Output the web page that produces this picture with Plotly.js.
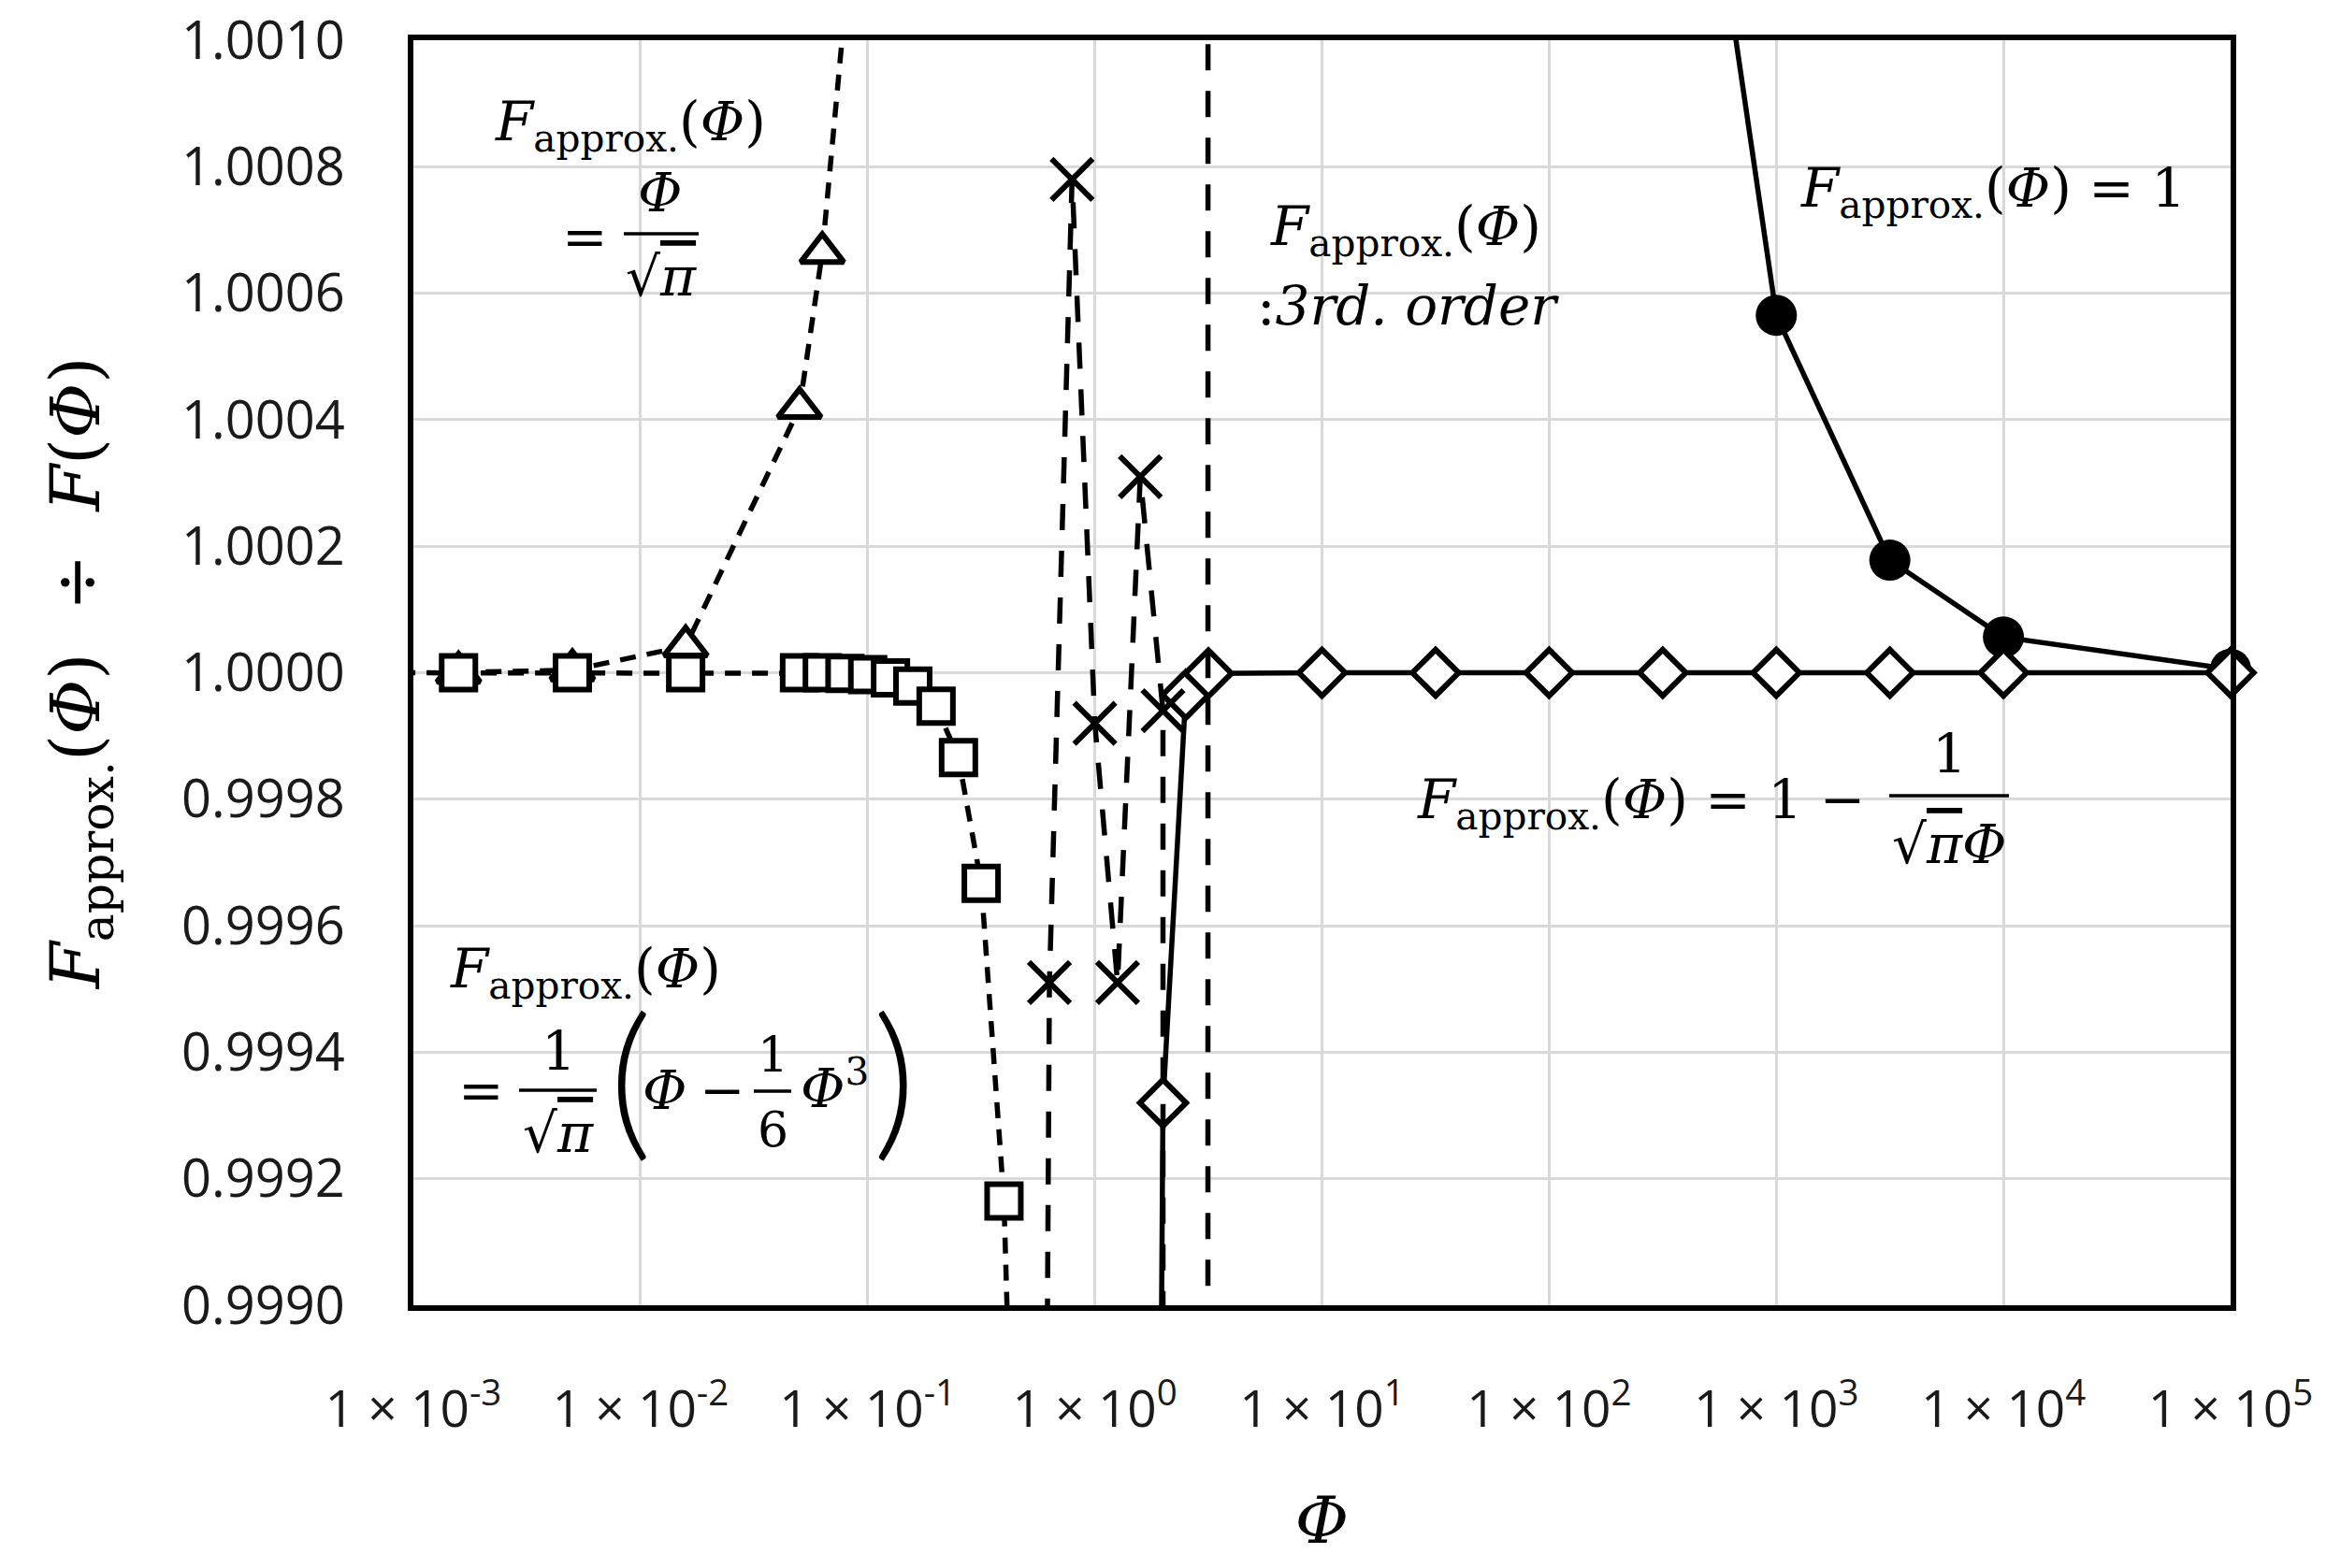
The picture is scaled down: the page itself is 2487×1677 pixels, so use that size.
<!DOCTYPE html>
<html><head><meta charset="utf-8">
<script src="https://cdn.plot.ly/plotly-3.0.1.min.js"></script>
<style>html,body{margin:0;padding:0;background:#fff}</style>
</head><body>
<div id="chart" style="width:2487px;height:1677px"></div>
<script>
// ---- data (x = Phi, y = Fapprox/F) ----
const phiTriangle   = [0.00158, 0.00501, 0.0158, 0.0501, 0.0631, 0.0794, 0.1];
const ratioTriangle = [1.0000004, 1.0000042, 1.000042, 1.000419, 1.000664, 1.00105, 1.00167];

const phiSquare   = [0.000501, 0.00158, 0.00501, 0.0158, 0.0501, 0.0631, 0.0794, 0.1, 0.126, 0.158, 0.2, 0.251, 0.316, 0.398, 0.501];
const ratioSquare = [1.0, 1.0, 1.0, 1.0, 1.0, 1.0, 0.999999, 0.999997, 0.999992, 0.999979, 0.999947, 0.999866, 0.999667, 0.999165, 0.99793];

const phiCross   = [0.501, 0.631, 0.794, 1.0, 1.259, 1.585, 1.995, 2.512, 3.162];
const ratioCross = [0.9935, 0.99951, 1.00078, 0.99992, 0.99951, 1.00031, 0.99994, 0.5, 1.01];

const phiDiamond   = [1.585, 1.995, 2.512, 3.162, 10, 31.62, 100, 316.2, 1000, 3162, 10000, 100000];
const ratioDiamond = [0.99399, 0.99932, 0.999965, 0.999999, 1.0, 1.0, 1.0, 1.0, 1.0, 1.0, 1.0, 1.0];

const phiCircle   = [316.2, 1000, 3162, 10000, 100000];
const ratioCircle = [1.00179, 1.000565, 1.000178, 1.0000564, 1.0000056];

const xTickVals = [1e-3, 1e-2, 1e-1, 1e0, 1e1, 1e2, 1e3, 1e4, 1e5];
const xTickExp  = ['-3', '-2', '-1', '0', '1', '2', '3', '4', '5'];
const xTickText = xTickExp.map(e => '1 × 10<sup>' + e + '</sup>');

// ---- layout helpers (pixel -> paper) ----
const L = 442, R = 2385, T = 43, B = 1396;
const px = x => (x - L) / (R - L);
const py = y => (B - y) / (B - T);

const MATH = 'DejaVu Serif';
const FA = '<i>F</i><sub>approx.</sub>(<i>Φ</i>)';
const SQPI = '√<span style="text-decoration:overline"><i>π</i></span>';

function ann(x, y, text, size, xanchor, family, weight) {
  return {xref: 'paper', yref: 'paper', x: px(x), y: py(y), text: text, showarrow: false,
          xanchor: xanchor || 'center', yanchor: 'middle',
          font: {family: family || MATH, size: size || 56, color: '#000', weight: weight || 400}};
}
function bar(x0, x1, y) {
  return {type: 'line', xref: 'paper', yref: 'paper', x0: px(x0), x1: px(x1), y0: py(y), y1: py(y),
          line: {color: '#000', width: 3.5}, layer: 'above'};
}
function box(x0, x1, y0, y1) {
  return {type: 'rect', xref: 'paper', yref: 'paper', x0: px(x0), x1: px(x1), y0: py(y1), y1: py(y0),
          fillcolor: '#fff', line: {width: 0}, layer: 'between'};
}

const traces = [
  {x: phiCircle, y: ratioCircle, mode: 'lines+markers', cliponaxis: false,
   line: {color: '#000', width: 5.5},
   marker: {symbol: 'circle', size: 44, color: '#000'}},
  {x: phiTriangle, y: ratioTriangle, mode: 'lines+markers',
   line: {color: '#000', width: 5.5, dash: '17px,12px'},
   marker: {symbol: 'triangle-up', size: 40, color: '#fff', line: {color: '#000', width: 6}}},
  {x: phiSquare, y: ratioSquare, mode: 'lines+markers',
   line: {color: '#000', width: 5.5, dash: '17px,12px'},
   marker: {symbol: 'square', size: 36, color: '#fff', line: {color: '#000', width: 6}}},
  {x: phiDiamond, y: ratioDiamond, mode: 'lines+markers', cliponaxis: false,
   line: {color: '#000', width: 5.5},
   marker: {symbol: 'diamond', size: 38, color: '#fff', line: {color: '#000', width: 6}}},
  {x: phiCross, y: ratioCross, mode: 'lines+markers',
   line: {color: '#000', width: 5.5, dash: '28px,22px'},
   marker: {symbol: 'x-thin-open', size: 44, color: '#000', line: {color: '#000', width: 6}}}
];

const annotations = [
  // Phi / sqrt(pi)
  ann(674, 134, FA, 58),
  ann(625, 253, '=', 58),
  ann(706, 206, '<i>Φ</i>', 58),
  ann(707, 296, SQPI, 58),
  // 3rd order
  ann(1356, 246, FA, 58, 'left'),
  ann(1342, 327, ':<i>3rd. order</i>', 58, 'left'),
  // = 1
  ann(2131, 205, FA + ' = 1', 58),
  // 1 - 1/(sqrt(pi) Phi)
  ann(1996, 859, FA + ' = 1 −', 58, 'right'),
  ann(2084, 806, '1', 58),
  ann(2084, 903, SQPI + '<i>Φ</i>', 58),
  // (1/sqrt(pi))(Phi - Phi^3/6)
  ann(626, 1040, FA, 58),
  ann(514, 1166, '=', 58),
  ann(597, 1124, '1', 58),
  ann(597, 1212, SQPI, 58),
  ann(674, 1148, '(', 180, 'center', 'Lato', 300),
  ann(711, 1166, '<i>Φ</i>', 58),
  ann(772, 1166, '−', 58),
  ann(826, 1128, '1', 52),
  ann(826, 1208, '6', 52),
  ann(892, 1160, '<i>Φ</i><sup>3</sup>', 58),
  ann(956, 1148, ')', 180, 'center', 'Lato', 300)
];

const shapes = [
  box(510, 842, 60, 330),
  box(1300, 1664, 215, 362),
  box(1912, 2350, 160, 242),
  box(1510, 2160, 770, 934),
  box(452, 999, 1000, 1255),
  bar(667, 747, 250),
  bar(2020, 2148, 851),
  bar(555, 638, 1166),
  bar(806, 846, 1167)
];

const layout = {
  width: 2487, height: 1677,
  margin: {l: L, r: 2487 - R, t: T, b: 1677 - B},
  paper_bgcolor: '#fff', plot_bgcolor: '#fff',
  showlegend: false,
  xaxis: {
    type: 'log', range: [-3, 5],
    tickvals: xTickVals, ticktext: xTickText,
    tickfont: {family: 'Open Sans', size: 55, color: '#1a1a1a'},
    ticks: 'outside', ticklen: 58, tickcolor: 'rgba(0,0,0,0)',
    showgrid: true, gridcolor: '#d9d9d9', gridwidth: 3,
    showline: true, mirror: true, linecolor: '#000', linewidth: 6,
    zeroline: false,
    title: {text: '<i>Φ</i>', font: {family: MATH, size: 70, color: '#000'}, standoff: 62}
  },
  yaxis: {
    range: [0.999, 1.001], dtick: 0.0002, tick0: 0.999, tickformat: '.4f',
    tickfont: {family: 'Open Sans', size: 56, color: '#1a1a1a'},
    ticks: 'outside', ticklen: 56, tickcolor: 'rgba(0,0,0,0)',
    showgrid: true, gridcolor: '#d9d9d9', gridwidth: 3,
    showline: true, mirror: true, linecolor: '#000', linewidth: 6,
    zeroline: false,
    title: {text: FA + '  ÷  <i>F</i>(<i>Φ</i>)', font: {family: MATH, size: 72, color: '#000'}, standoff: 66}
  },
  annotations: annotations,
  shapes: shapes
};

Plotly.newPlot('chart', traces, layout, {staticPlot: true, displayModeBar: false});
</script>
</body></html>
